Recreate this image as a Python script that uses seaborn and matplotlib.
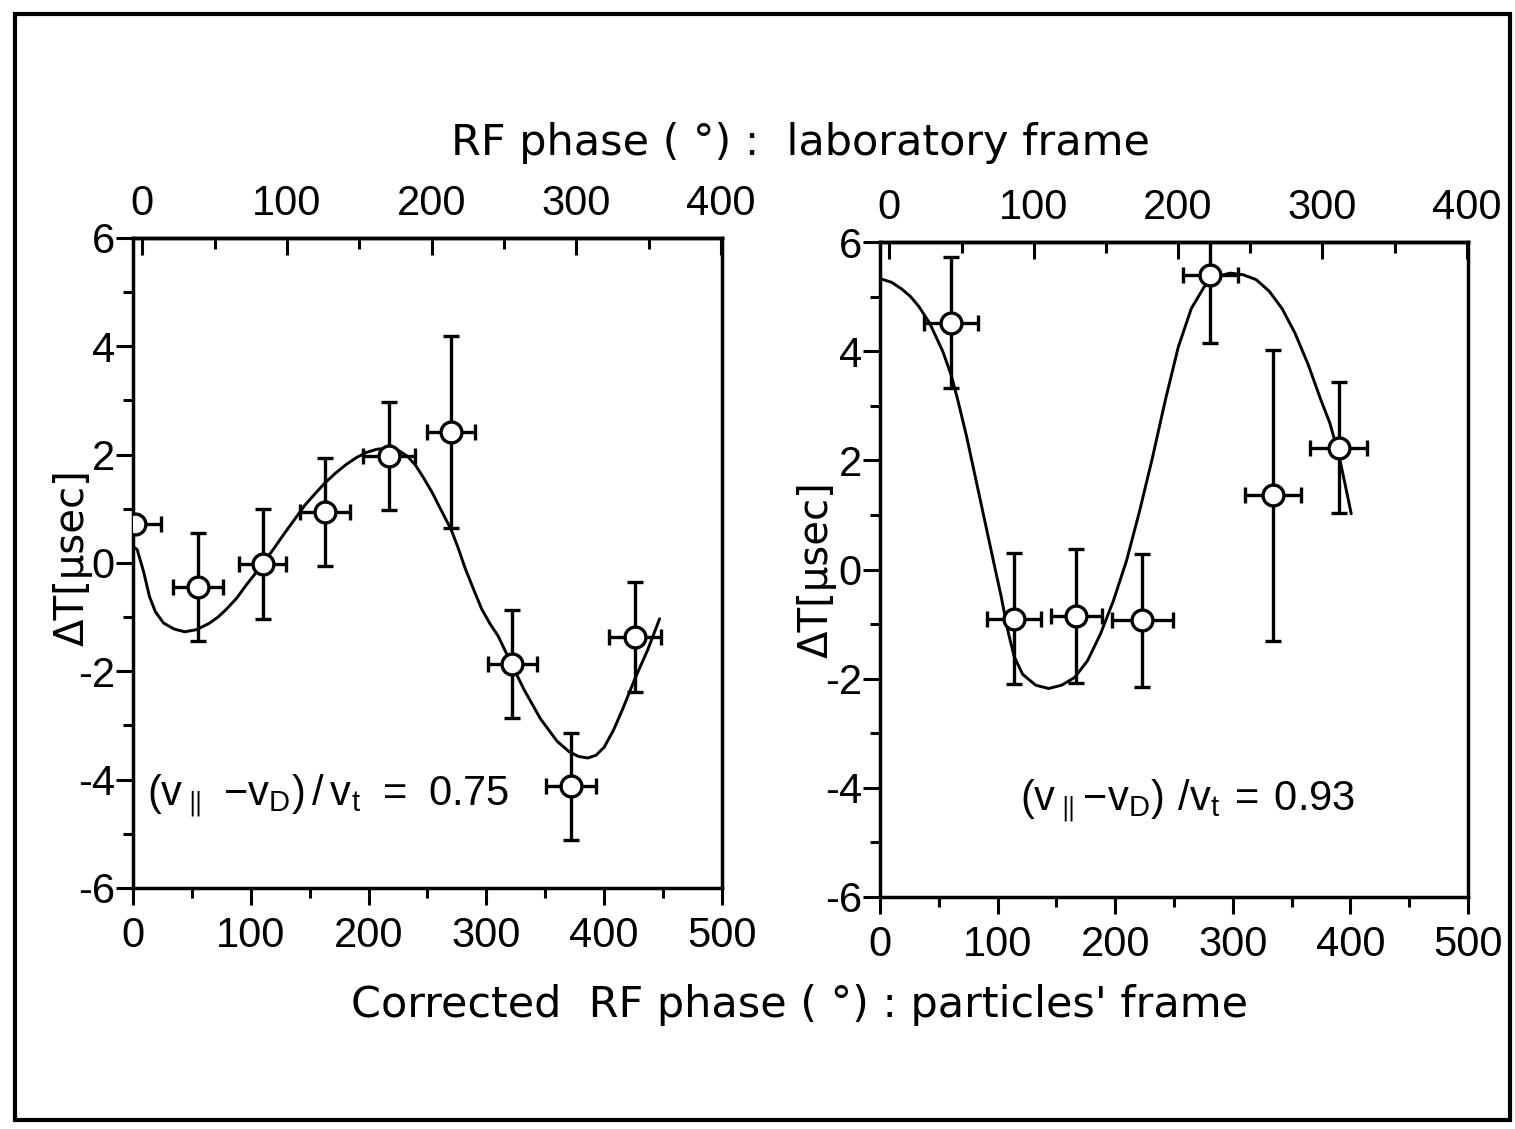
import numpy as np
import pandas as pd
import matplotlib
matplotlib.use("Agg")
import matplotlib.pyplot as plt
import seaborn as sns
from matplotlib.patches import Rectangle
from matplotlib.ticker import MultipleLocator

# ---------------- data ----------------
left_x = [2, 55, 110, 163, 217, 270, 322, 372, 426]
left_y = [0.72, -0.44, -0.02, 0.94, 1.97, 2.42, -1.86, -4.12, -1.37]
left_xerr = [22, 21, 20, 21, 22, 20, 21, 21, 22]
left_yerr = [0.0, 1.0, 1.02, 1.0, 1.0, 1.77, 1.0, 0.99, 1.02]

left_curve_x = [0, 3.5, 9, 14, 19, 26, 35, 44, 54, 65, 72, 79, 88, 96, 104, 112,
                120, 128, 137, 146, 155, 163, 172, 181, 190, 198, 207, 216, 226,
                233, 240, 247, 254, 261, 270, 276, 282, 289, 296, 303, 310, 321,
                332, 346, 360, 370, 378, 386, 393, 400, 408, 416, 426, 437, 447]
left_curve_y = [0.3, 0.25, -0.16, -0.62, -0.9, -1.11, -1.22, -1.27, -1.23, -1.11,
                -1.0, -0.86, -0.65, -0.41, -0.19, 0.04, 0.28, 0.53, 0.8, 1.07,
                1.29, 1.48, 1.66, 1.82, 1.95, 2.04, 2.1, 2.12, 2.07, 1.97, 1.8,
                1.56, 1.3, 1.0, 0.62, 0.28, -0.1, -0.48, -0.85, -1.12, -1.35,
                -1.85, -2.34, -2.88, -3.29, -3.48, -3.57, -3.6, -3.55, -3.4,
                -3.08, -2.68, -2.14, -1.6, -1.03]

right_x = [60, 114, 167, 223, 281, 334, 390]
right_y = [4.52, -0.90, -0.85, -0.93, 5.40, 1.36, 2.23]
right_xerr = [23, 23, 22, 26, 23, 24, 24]
right_yerr = [1.2, 1.2, 1.23, 1.22, 1.25, 2.67, 1.2]

right_curve_x = [0, 10, 18.4, 26, 33, 42.3, 53.3, 60.7, 66.2, 73.5, 80.9, 88.2,
                 95.6, 103, 108.5, 114, 121.3, 132.4, 143.4, 154.4, 165.4, 176.5,
                 187.5, 198.5, 209.6, 220.6, 231.6, 242.6, 253.7, 264.7, 275.7,
                 286.8, 297.8, 308.8, 319.9, 330.9, 341.9, 352.9, 364, 375,
                 382.4, 390, 395.6, 400.7]
right_curve_y = [5.33, 5.26, 5.14, 5.0, 4.82, 4.51, 4.0, 3.55, 3.1, 2.45, 1.71,
                 0.98, 0.24, -0.49, -1.1, -1.59, -1.92, -2.12, -2.18, -2.12,
                 -1.98, -1.67, -1.18, -0.57, 0.16, 1.06, 2.04, 3.1, 4.08, 4.78,
                 5.18, 5.37, 5.43, 5.4, 5.31, 5.1, 4.78, 4.33, 3.76, 3.1, 2.69,
                 2.12, 1.55, 1.02]

x_ticks = [0, 100, 200, 300, 400, 500]
top_ticks = [0, 100, 200, 300, 400]
y_ticks = [-6, -4, -2, 0, 2, 4, 6]

labels = {
    "top": "RF phase ( °) :  laboratory frame",
    "bottom": "Corrected  RF phase ( °) : particles' frame",
    "y": "ΔT[μsec]",
    "left_note": r"$(v_{\parallel}\ {-}v_{D})\,/\,v_{t}\ {=}\ 0.75$",
    "right_note": r"$(v_{\parallel}{-}v_{D})\ /v_{t}\,{=}\,0.93$",
}

# linear relation between particles' frame (bottom) and laboratory frame (top)
LAB_OFFSET = 8.0
LAB_SCALE = 1.2275

# ---------------- style ----------------
sns.set_style("ticks")
plt.rcParams["font.family"] = ["Liberation Sans", "DejaVu Sans"]
plt.rcParams["axes.unicode_minus"] = False
plt.rcParams["mathtext.default"] = "regular"
plt.rcParams["lines.solid_joinstyle"] = "round"
for key in ["text.color", "axes.labelcolor", "xtick.color", "ytick.color",
            "axes.edgecolor", "xtick.labelcolor", "ytick.labelcolor"]:
    plt.rcParams[key] = "black"

W, H = 1515, 1129
fig = plt.figure(figsize=(W / 100, H / 100), dpi=100)

axL = fig.add_axes([133 / W, 1 - 888 / H, 589 / W, 650 / H])
axR = fig.add_axes([880 / W, 1 - 897 / H, 588 / W, 655 / H])

TICK_SIZE = 30
LABEL_FONT = ["DejaVu Sans"]


def fwd(x):
    return (np.asarray(x) - LAB_OFFSET) / LAB_SCALE


def inv(t):
    return np.asarray(t) * LAB_SCALE + LAB_OFFSET


def draw(ax, px, py, pxe, pye, cx, cy, note, note_xy):
    df = pd.DataFrame({"x": cx, "y": cy})
    sns.lineplot(data=df, x="x", y="y", ax=ax, color="black", linewidth=2.1,
                 estimator=None, sort=False, zorder=2)
    ax.errorbar(px, py, xerr=pxe, yerr=pye, fmt="o", ms=15, mfc="white",
                mec="black", mew=2.4, ecolor="black", elinewidth=2.4,
                capsize=6, capthick=2.4, zorder=3)
    ax.set_xlim(0, 500)
    ax.set_ylim(-6, 6)
    ax.set_xticks(x_ticks)
    ax.set_yticks(y_ticks)
    ax.xaxis.set_minor_locator(MultipleLocator(50))
    ax.yaxis.set_minor_locator(MultipleLocator(1))
    ax.set_xlabel("")
    ax.set_ylabel("")
    for s in ax.spines.values():
        s.set_linewidth(2.5)
        s.set_color("black")
        s.set_visible(True)
    ax.tick_params(axis="both", which="major", direction="out", length=12,
                   width=2.2, top=False, right=False, labelsize=TICK_SIZE,
                   colors="black")
    ax.tick_params(axis="both", which="minor", direction="out", length=7,
                   width=2.2, top=False, right=False, colors="black")
    ax.tick_params(axis="x", which="major", pad=8)
    ax.tick_params(axis="y", which="major", pad=1)
    sec = ax.secondary_xaxis("top", functions=(fwd, inv))
    sec.set_xticks(top_ticks)
    sec.xaxis.set_minor_locator(MultipleLocator(50))
    sec.tick_params(axis="x", which="major", direction="in", length=12,
                    width=2.2, pad=10, labelsize=TICK_SIZE, colors="black")
    sec.tick_params(axis="x", which="minor", direction="in", length=8,
                    width=2.2, colors="black")
    sec.spines["top"].set_linewidth(2.5)
    sec.spines["top"].set_color("black")
    ax.text(note_xy[0], note_xy[1], note, fontsize=30, ha="left", va="center",
            color="black")


draw(axL, left_x, left_y, left_xerr, left_yerr, left_curve_x, left_curve_y,
     labels["left_note"], (12, -4.3))
draw(axR, right_x, right_y, right_xerr, right_yerr, right_curve_x, right_curve_y,
     labels["right_note"], (119, -4.25))

fig.text(800 / W, 1 - 143 / H, labels["top"], fontsize=31, ha="center",
         va="center", family=LABEL_FONT, color="black")
fig.text(800 / W, 1 - 1005 / H, labels["bottom"], fontsize=31, ha="center",
         va="center", family=LABEL_FONT, color="black")
fig.text(73 / W, 1 - 558 / H, labels["y"], fontsize=29, ha="center",
         va="center", rotation=90, family=LABEL_FONT, color="black")
fig.text(817 / W, 1 - 570 / H, labels["y"], fontsize=29, ha="center",
         va="center", rotation=90, family=LABEL_FONT, color="black")

fig.add_artist(Rectangle((15 / W, 1 - 1120 / H), 1495 / W, 1106 / H,
                         transform=fig.transFigure, fill=False, lw=3, ec="black"))

fig.savefig("out.png", dpi=100, facecolor="white")
